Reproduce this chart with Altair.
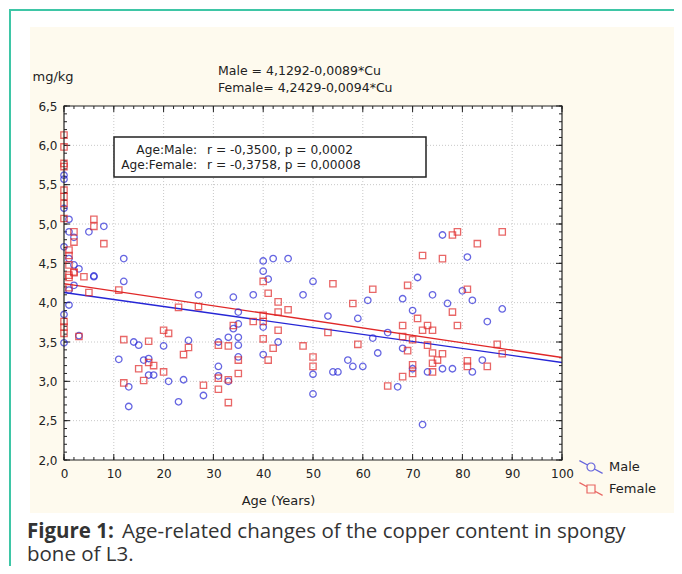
import altair as alt
import pandas as pd

# ---------------- data ----------------
male_age = [0, 0, 0, 0, 0, 0, 1, 1, 2, 5, 8, 12, 12, 1, 2, 3, 6, 6, 2, 1, 1, 3,
            14, 15, 11, 16, 17, 17, 18, 13, 13, 20, 21, 23, 24, 25,
            40, 42, 45, 40, 41, 50, 27, 34, 38, 48, 35, 35, 34, 40,
            31, 33, 35, 35, 43, 40, 35, 31, 31, 33, 28, 50, 50,
            76, 71, 74, 77, 68, 61, 70, 53, 59, 62, 65, 68, 63, 57, 58, 60, 54, 55,
            67, 70, 73, 76, 78, 72, 81, 80, 82, 88, 85, 84, 82]
male_cu = [5.62, 5.57, 5.20, 4.71, 3.85, 3.49, 5.06, 4.90, 4.83, 4.90, 4.97, 4.56, 4.27, 4.56, 4.48, 4.43, 4.34, 4.33, 4.22, 4.16, 3.97, 3.58,
           3.50, 3.46, 3.28, 3.27, 3.29, 3.08, 3.08, 2.93, 2.68, 3.45, 3.00, 2.74, 3.02, 3.52,
           4.53, 4.56, 4.56, 4.40, 4.30, 4.27, 4.10, 4.07, 4.10, 4.10, 3.88, 3.73, 3.67, 3.69,
           3.50, 3.56, 3.56, 3.46, 3.50, 3.34, 3.31, 3.19, 3.07, 3.00, 2.82, 3.09, 2.84,
           4.86, 4.32, 4.10, 3.99, 4.05, 4.03, 3.90, 3.83, 3.80, 3.55, 3.62, 3.42, 3.36, 3.27, 3.19, 3.19, 3.12, 3.12,
           2.93, 3.16, 3.12, 3.16, 3.16, 2.45, 4.58, 4.15, 4.03, 3.92, 3.76, 3.27, 3.12]

female_age = [0, 0, 0, 0, 0, 0, 0, 0, 0, 0, 0,
              6, 6, 2, 2, 8, 1, 1, 1, 2, 4, 1, 1, 5, 11, 23, 3, 12, 17, 20, 21, 24, 25,
              15, 17, 18, 20, 16, 12, 1, 2,
              40, 41, 43, 43, 45, 27, 40, 40, 38, 34, 43, 40, 31, 33, 42, 48, 35, 41, 35,
              31, 33, 28, 31, 33, 50, 50,
              78, 79, 72, 76, 54, 62, 69, 58, 78, 71, 68, 73, 72, 74, 68, 70, 53, 59, 73,
              69, 74, 76, 75, 74, 70, 70, 74, 68, 65,
              88, 83, 81, 79, 87, 88, 81, 81, 85]
female_cu = [6.13, 5.98, 5.77, 5.73, 5.43, 5.35, 5.26, 5.07, 3.76, 3.69, 3.61,
             5.06, 4.97, 4.90, 4.77, 4.75, 4.67, 4.60, 4.48, 4.39, 4.33, 4.32, 4.19, 4.13, 4.16, 3.94, 3.57, 3.53, 3.51, 3.65, 3.61, 3.34, 3.43,
             3.16, 3.24, 3.20, 3.12, 3.01, 2.98, 4.35, 4.38,
             4.27, 4.12, 4.01, 3.88, 3.91, 3.95, 3.84, 3.76, 3.76, 3.71, 3.65, 3.54, 3.46, 3.45, 3.42, 3.45, 3.27, 3.27, 3.10,
             3.04, 3.02, 2.95, 2.90, 2.73, 3.31, 3.19,
             4.86, 4.90, 4.60, 4.56, 4.24, 4.17, 4.22, 3.99, 3.88, 3.80, 3.71, 3.71, 3.65, 3.65, 3.57, 3.53, 3.62, 3.47, 3.46,
             3.39, 3.36, 3.35, 3.27, 3.23, 3.21, 3.10, 3.12, 3.06, 2.94,
             4.90, 4.75, 4.17, 3.71, 3.47, 3.35, 3.26, 3.19, 3.19]

series = ["Male", "Female"]
intercepts = [4.1292, 4.2429]
slopes = [-0.0089, -0.0094]
line_ages = [0, 100]

equation_lines = ["Male = 4,1292-0,0089*Cu", "Female= 4,2429-0,0094*Cu"]
box_keys = ["Age:Male:", "Age:Female:"]
box_stats = ["r = -0,3500, p = 0,0002", "r = -0,3758, p = 0,00008"]
caption_bold = "Figure 1:"
caption_line1 = "Age-related changes of the copper content in spongy"
caption_line2 = "bone of L3."

x_major = list(range(0, 101, 10))
x_minor = list(range(0, 101, 2))
y_major = [2.0, 2.5, 3.0, 3.5, 4.0, 4.5, 5.0, 5.5, 6.0, 6.5]
y_minor = [round(2.0 + 0.1 * i, 1) for i in range(46)]

# ---------------- style ----------------
W, H = 498, 354
BLUE = "#2626d6"
RED = "#e02828"
GREEN = "#3ec6a6"
CREAM = "#fefaee"
FONT = "DejaVu Sans"
CAP_FONT = "Open Sans"

xs = alt.Scale(domain=[0, 100], nice=False, zero=False)
ys = alt.Scale(domain=[2.0, 6.5], nice=False, zero=False)

X_AXIS = alt.Axis(values=x_major, grid=False, ticks=False, tickSize=0, domain=False, labelFlush=False,
                  labelFont=FONT, labelFontSize=12, labelColor="#222", labelPadding=8,
                  title="Age (Years)", titleFont=FONT, titleFontSize=13, titleFontWeight="normal",
                  titleColor="#222", titleX=214, titleY=40, titleAlign="center",
                  titleBaseline="middle", zindex=1)
Y_AXIS = alt.Axis(values=y_major, grid=False, ticks=False, tickSize=0, domain=False, labelFlush=False,
                  labelFont=FONT, labelFontSize=12, labelColor="#222", labelPadding=7,
                  labelExpr="replace(format(datum.value, '.1f'), '.', ',')",
                  title="mg/kg", titleFont=FONT, titleFontSize=13, titleFontWeight="normal",
                  titleColor="#222", titleAngle=0, titleX=-32, titleY=-30,
                  titleAlign="left", titleBaseline="middle", zindex=1)

one = pd.DataFrame({"k": [0]})

def deco_rect(x, x2, y, y2, **kw):
    return alt.Chart(one).mark_rect(**kw).encode(
        x=alt.value(x), x2=alt.value(x2), y=alt.value(y), y2=alt.value(y2))

green_frame = deco_rect(-54, 760, -96, 600, fillOpacity=0, stroke=GREEN, strokeWidth=2)
cream = deco_rect(-34, 614, -79, 407, fill=CREAM)

extent = pd.DataFrame({"age": [0], "age2": [100], "cu": [2.0], "cu2": [6.5]})
plot_bg = alt.Chart(extent).mark_rect(fill="white").encode(
    x=alt.X("age:Q", scale=xs, axis=X_AXIS), x2="age2:Q",
    y=alt.Y("cu:Q", scale=ys, axis=Y_AXIS), y2="cu2:Q")
frame = alt.Chart(extent).mark_rect(fillOpacity=0, stroke="#222", strokeWidth=1.2).encode(
    x=alt.X("age:Q", scale=xs, axis=X_AXIS), x2="age2:Q",
    y=alt.Y("cu:Q", scale=ys, axis=Y_AXIS), y2="cu2:Q")

grid_style = dict(color="#c8c8c8", strokeDash=[1, 2], strokeWidth=1)
grid_x = alt.Chart(pd.DataFrame({"age": x_major[1:-1]})).mark_rule(**grid_style).encode(
    x=alt.X("age:Q", scale=xs, axis=X_AXIS), y=alt.value(0), y2=alt.value(H))
grid_y = alt.Chart(pd.DataFrame({"cu": y_major[1:-1]})).mark_rule(**grid_style).encode(
    y=alt.Y("cu:Q", scale=ys, axis=Y_AXIS), x=alt.value(0), x2=alt.value(W))

def xticks(vals, length):
    d = pd.DataFrame({"age": vals})
    base = alt.Chart(d).mark_rule(color="#222", strokeWidth=1)
    return [base.encode(x=alt.X("age:Q", scale=xs, axis=X_AXIS), y=alt.value(H), y2=alt.value(H - length)),
            base.encode(x=alt.X("age:Q", scale=xs, axis=X_AXIS), y=alt.value(0), y2=alt.value(length))]

def yticks(vals, length):
    d = pd.DataFrame({"cu": vals})
    base = alt.Chart(d).mark_rule(color="#222", strokeWidth=1)
    return [base.encode(y=alt.Y("cu:Q", scale=ys, axis=Y_AXIS), x=alt.value(0), x2=alt.value(length)),
            base.encode(y=alt.Y("cu:Q", scale=ys, axis=Y_AXIS), x=alt.value(W), x2=alt.value(W - length))]

ticks = xticks(x_major, 6) + xticks(x_minor, 3) + yticks(y_major, 6) + yticks(y_minor, 3)

male_df = pd.DataFrame({"age": male_age, "cu": male_cu})
female_df = pd.DataFrame({"age": female_age, "cu": female_cu})

male_pts = alt.Chart(male_df).mark_point(shape="circle", filled=False, size=42, strokeWidth=1.3, color=BLUE).encode(
    x=alt.X("age:Q", scale=xs, axis=X_AXIS), y=alt.Y("cu:Q", scale=ys, axis=Y_AXIS))
female_pts = alt.Chart(female_df).mark_point(shape="square", filled=False, size=40, strokeWidth=1.3, color=RED).encode(
    x=alt.X("age:Q", scale=xs, axis=X_AXIS), y=alt.Y("cu:Q", scale=ys, axis=Y_AXIS))

def reg_df(i):
    return pd.DataFrame({"age": line_ages, "cu": [intercepts[i] + slopes[i] * a for a in line_ages]})

male_line = alt.Chart(reg_df(0)).mark_line(color=BLUE, strokeWidth=1.3).encode(
    x=alt.X("age:Q", scale=xs, axis=X_AXIS), y=alt.Y("cu:Q", scale=ys, axis=Y_AXIS))
female_line = alt.Chart(reg_df(1)).mark_line(color=RED, strokeWidth=1.3).encode(
    x=alt.X("age:Q", scale=xs, axis=X_AXIS), y=alt.Y("cu:Q", scale=ys, axis=Y_AXIS))

# legend symbols: diagonal line with marker
MALE_PATH = "M-1.45,-0.8L-0.434,-0.248M0.434,0.248L1.45,0.8M0.5,0A0.5,0.5,0,1,1,-0.5,0A0.5,0.5,0,1,1,0.5,0Z"
FEMALE_PATH = "M-1.45,-0.8L-0.5,-0.276M0.5,0.276L1.45,0.8M-0.5,-0.5H0.5V0.5H-0.5Z"
LEG = alt.Legend(title=None, orient="none", legendX=518, legendY=352, direction="vertical",
                 padding=0, symbolSize=256, symbolStrokeWidth=1.2, labelFont=FONT,
                 labelFontSize=13, labelColor="#222", labelOffset=9, rowPadding=4)
legend_layer = alt.Chart(pd.DataFrame({"series": series})).mark_point(filled=False, size=256).encode(
    x=alt.value(-3000), y=alt.value(-3000),
    color=alt.Color("series:N", scale=alt.Scale(domain=series, range=[BLUE, RED]), legend=LEG, sort=series),
    shape=alt.Shape("series:N", scale=alt.Scale(domain=series, range=[MALE_PATH, FEMALE_PATH]), legend=LEG, sort=series))

def text_layer(t, x, y, align="left", size=13, weight="normal", font=FONT, color="#222"):
    return alt.Chart(pd.DataFrame({"t": [t]})).mark_text(
        align=align, baseline="middle", font=font, fontSize=size, fontWeight=weight, color=color).encode(
        text="t:N", x=alt.value(x), y=alt.value(y))

eq1 = text_layer(equation_lines[0], 154, -35, size=12.5)
eq2 = text_layer(equation_lines[1], 154, -18, size=12.5)

box = deco_rect(50, 362, 31, 71, fill="white", stroke="#222", strokeWidth=1.5)
bk1 = text_layer(box_keys[0], 133, 44, align="right", size=12.2)
bk2 = text_layer(box_keys[1], 133, 59, align="right", size=12.2)
bs1 = text_layer(box_stats[0], 143, 44, size=12.2)
bs2 = text_layer(box_stats[1], 143, 59, size=12.2)

cap_b = text_layer(caption_bold, -37, 426, size=20.5, weight="bold", font=CAP_FONT, color="#333")
cap_1 = text_layer(caption_line1, 58, 426, size=20.5, font=CAP_FONT, color="#333")
cap_2 = text_layer(caption_line2, -37, 449, size=20.5, font=CAP_FONT, color="#333")

layers = [green_frame, cream, plot_bg, grid_x, grid_y] + ticks + [
    male_line, female_line, male_pts, female_pts, legend_layer, frame,
    eq1, eq2, box, bk1, bk2, bs1, bs2, cap_b, cap_1, cap_2]

chart = alt.layer(*layers).properties(
    width=W, height=H,
    padding={"left": 56, "top": 98, "right": 112, "bottom": 106},
    autosize=alt.AutoSizeParams(type="none"),
    background="white",
).configure_view(stroke=None)

chart.save("out.html", embed_options={"renderer": "svg", "actions": False})
